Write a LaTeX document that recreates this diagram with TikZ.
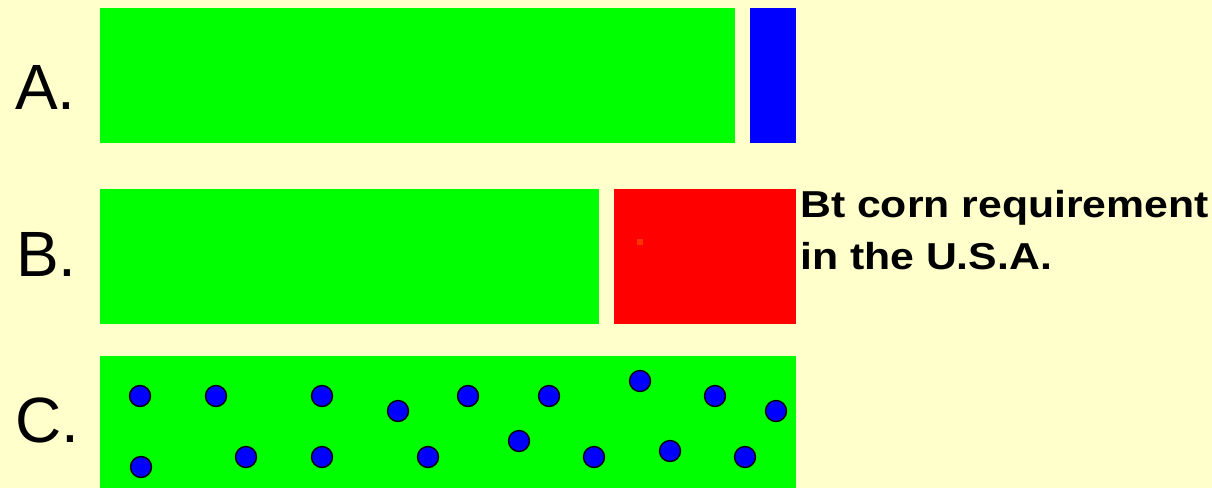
\documentclass[tikz,border=0pt]{standalone}
\usepackage{fontspec}
\setmainfont{Liberation Sans}
\usepackage{graphicx}
\definecolor{bg}{HTML}{FFFFCC}
\definecolor{field}{HTML}{00FF00}
\definecolor{refuge}{HTML}{0000FF}
\definecolor{redfield}{HTML}{FF0000}
\definecolor{speck}{HTML}{FF3300}
\tikzset{
  fieldbox/.style={fill=field, draw=none},
  rowlabel/.style={anchor=base west, inner sep=0pt, font=\fontsize{64}{70}\selectfont},
  plant/.style={circle, fill=refuge, draw=black, line width=1.4pt, minimum size=21pt, inner sep=0pt},
  note/.style={anchor=base west, inner sep=0pt},
}
\newcommand{\notetext}[1]{\scalebox{1.14}[1]{\fontsize{37.5}{40}\selectfont\bfseries #1}}
\begin{document}
\begin{tikzpicture}[x=1pt, y=-1pt]
\fill[bg] (0,0) rectangle (1212,488);
\useasboundingbox (0,0) rectangle (1212,488);
% Row A
\fill[fieldbox] (100,8) rectangle (735,143);
\fill[refuge] (750,8) rectangle (796,143);
\node[rowlabel] (la) at (15,109) {A.};
% Row B
\fill[fieldbox] (100,189) rectangle (599,324);
\fill[redfield] (614,189) rectangle (796,324);
\fill[speck] (637,239) rectangle (643,245);
\node[rowlabel] (lb) at (16,276) {B.};
\node[note] (t1) at (800,217) {\notetext{Bt corn requirement}};
\node[note] (t2) at (800,269) {\notetext{in the U.S.A.}};
% Row C
\fill[fieldbox] (100,356) rectangle (796,488);
\node[rowlabel] (lc) at (15,442) {C.};
\foreach \i/\x/\y in {1/140/396, 2/216/396, 3/322/396, 4/398/411, 5/468/396, 6/549/396, 7/640/381, 8/715/396, 9/776/411,
  10/141/467, 11/246/457, 12/322/457, 13/428/457, 14/519/441, 15/594/457, 16/670/451, 17/745/457}
  \node[plant] (p\i) at (\x,\y) {};
\end{tikzpicture}
\end{document}
